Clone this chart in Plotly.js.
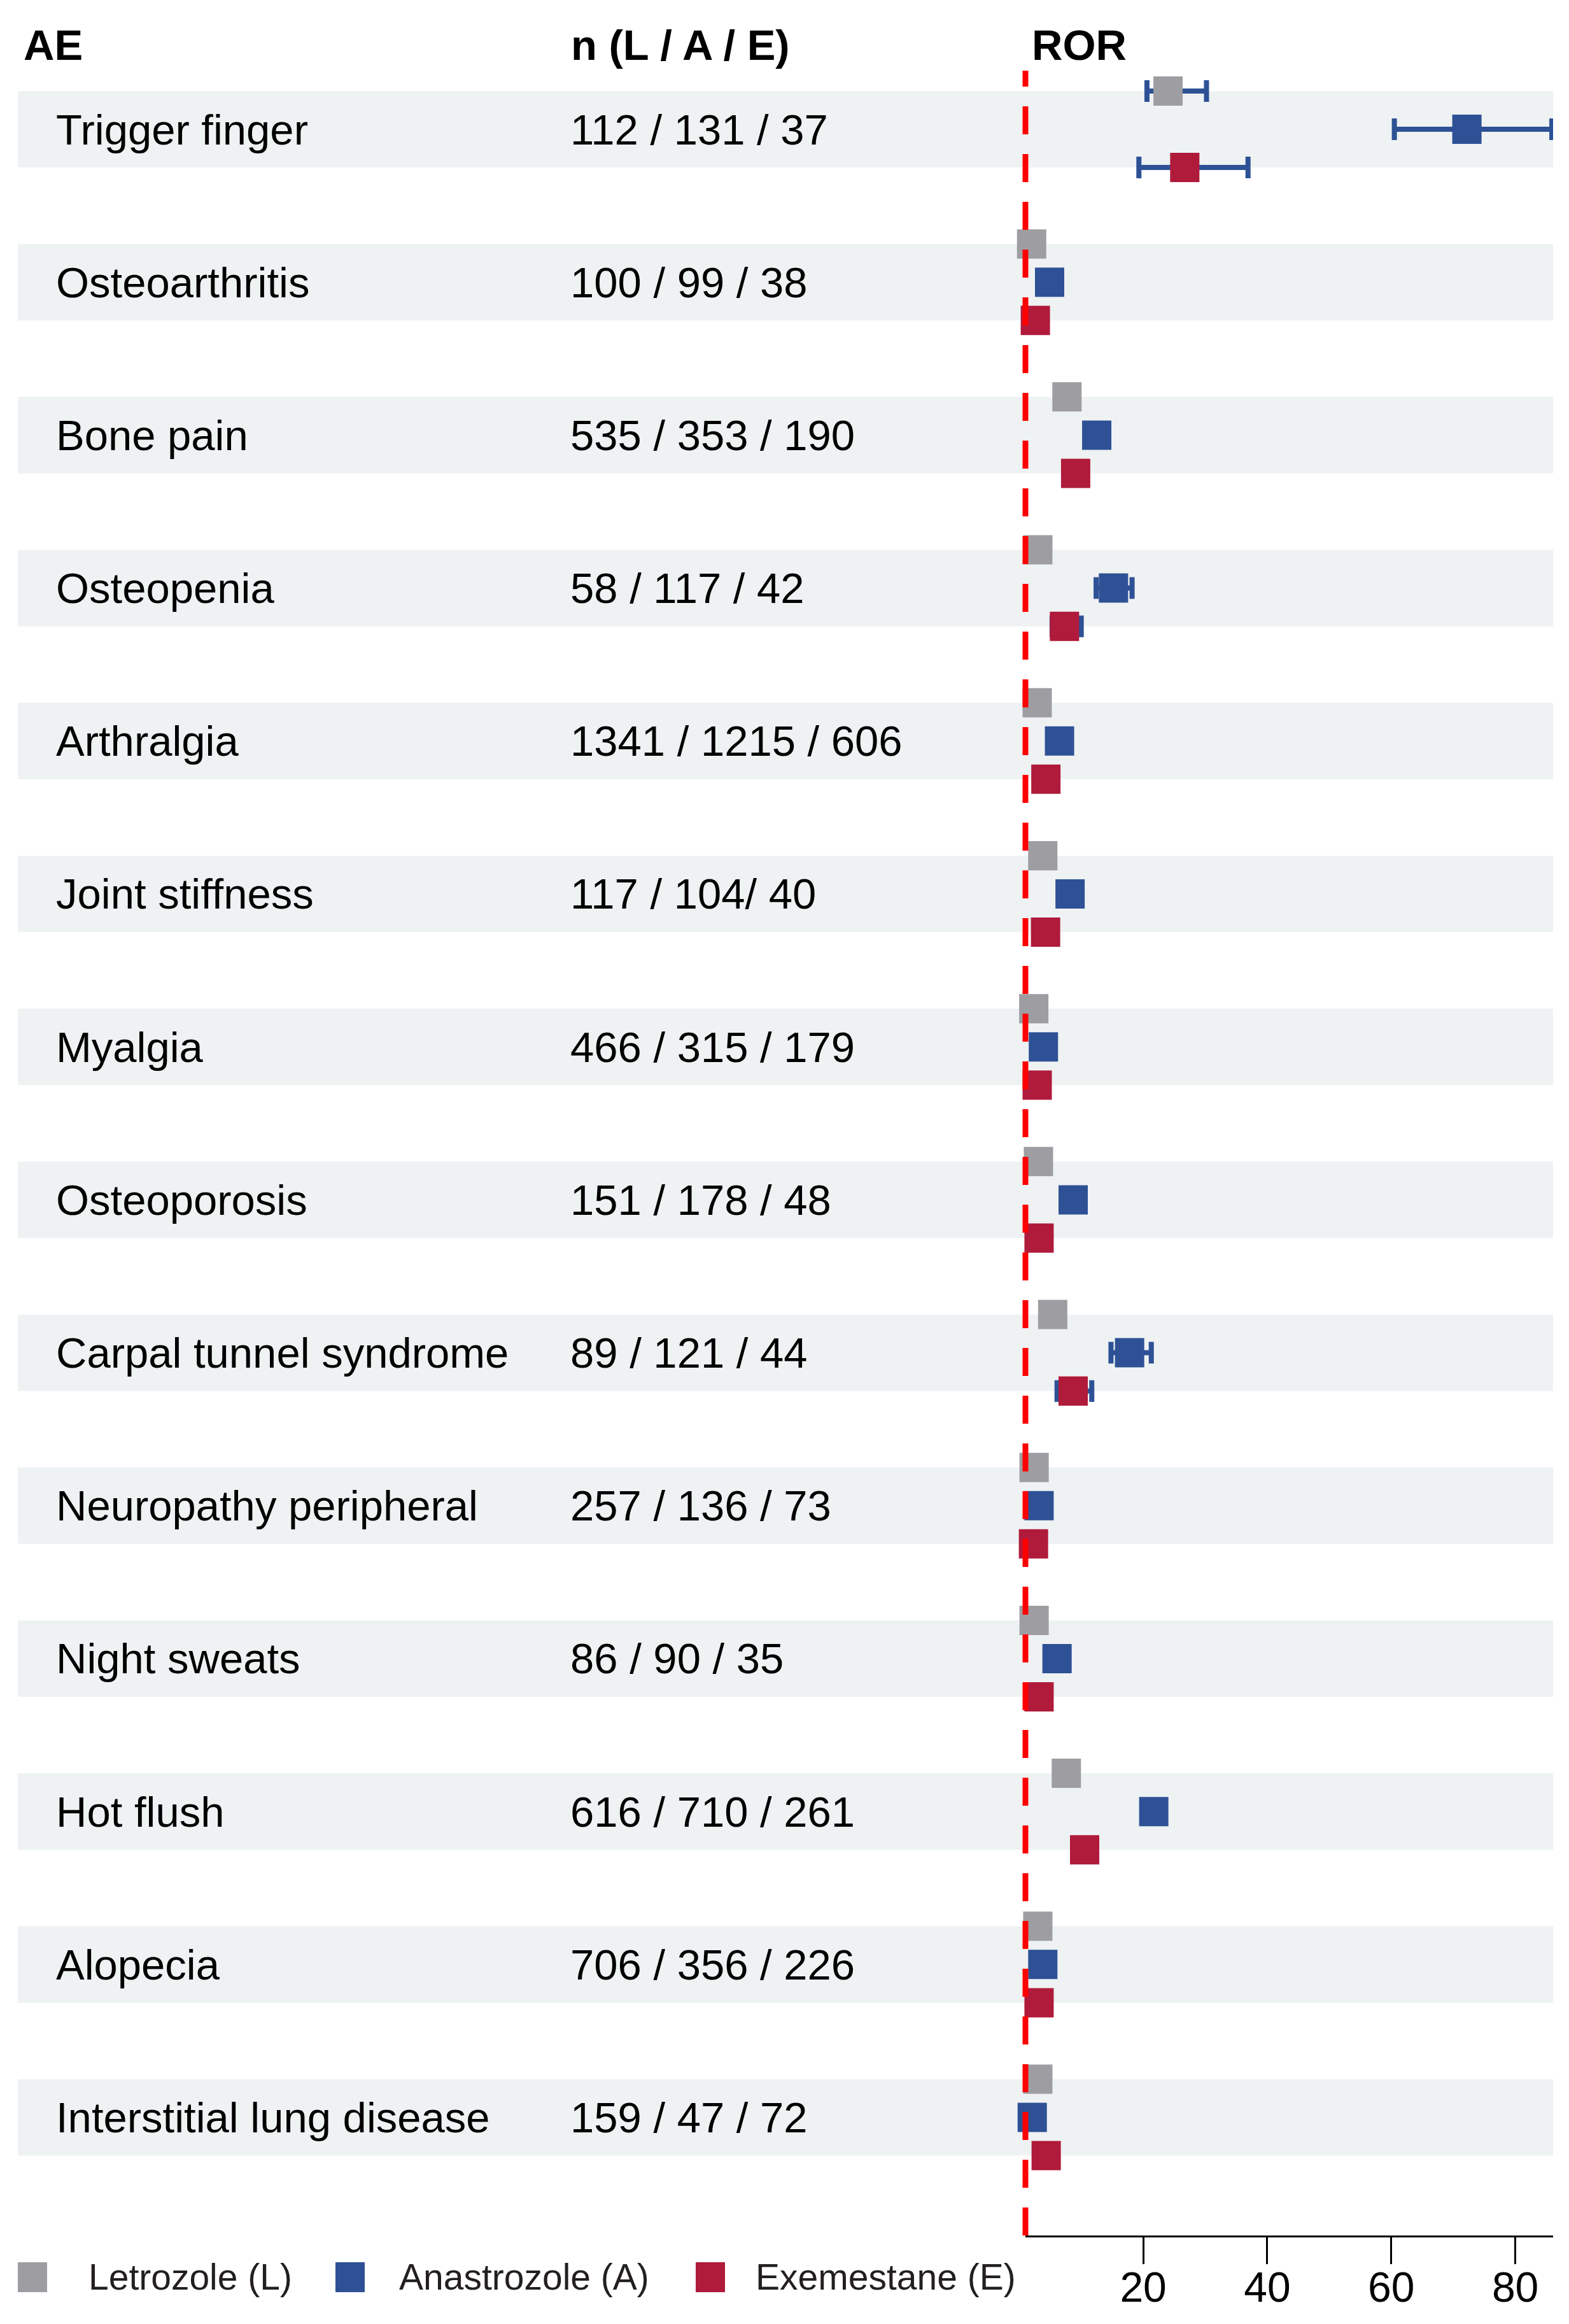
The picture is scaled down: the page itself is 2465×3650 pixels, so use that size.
<!DOCTYPE html>
<html>
<head>
<meta charset="utf-8">
<script src="https://cdn.plot.ly/plotly-3.0.1.min.js"></script>
<style>
html, body { margin: 0; padding: 0; background: #ffffff; }
#chart { width: 2465px; height: 3650px; }
</style>
</head>
<body>
<div id="chart"></div>
<script>
// ---------------- DATA ----------------
const categories = [
  "Trigger finger", "Osteoarthritis", "Bone pain", "Osteopenia", "Arthralgia",
  "Joint stiffness", "Myalgia", "Osteoporosis", "Carpal tunnel syndrome",
  "Neuropathy peripheral", "Night sweats", "Hot flush", "Alopecia",
  "Interstitial lung disease"
];
const nLabels = [
  "112 / 131 / 37", "100 / 99 / 38", "535 / 353 / 190", "58 / 117 / 42",
  "1341 / 1215 / 606", "117 / 104/ 40", "466 / 315 / 179", "151 / 178 / 48",
  "89 / 121 / 44", "257 / 136 / 73", "86 / 90 / 35", "616 / 710 / 261",
  "706 / 356 / 226", "159 / 47 / 72"
];
const seriesNames = ["Letrozole (L)", "Anastrozole (A)", "Exemestane (E)"];

// ROR point estimates
const rorL = [24.0, 2.0, 7.7, 3.0, 2.9, 3.8, 2.35, 3.1, 5.4, 2.4, 2.4, 7.6, 3.0, 3.0];
const rorA = [72.2, 4.9, 12.5, 15.2, 6.5, 8.2, 3.9, 8.7, 17.8, 3.2, 6.1, 21.7, 3.8, 2.1];
const rorE = [26.7, 2.6, 9.1, 7.3, 4.3, 4.25, 2.9, 3.2, 8.7, 2.3, 3.2, 10.55, 3.2, 4.35];

// 95% CI where visible outside the markers (null = hidden under marker)
const lowL  = [20.6, null, null, null, null, null, null, null, null, null, null, null, null, null];
const highL = [30.2, null, null, null, null, null, null, null, null, null, null, null, null, null];
const lowA  = [60.5, null, null, 12.4, null, null, null, null, 14.8, null, null, null, null, null];
const highA = [85.9, null, null, 18.2, null, null, null, null, 21.3, null, null, null, null, null];
const lowE  = [19.3, null, null, 5.3, null, null, null, null, 6.1, null, null, null, null, null];
const highE = [36.9, null, null, 10.0, null, null, null, null, 11.7, null, null, null, null, null];

const xTicks = [20, 40, 60, 80];
const nullROR = 1;

// ---------------- STYLE / LAYOUT ----------------
const W = 2465, H = 3650;
const M = { l: 1611, r: 25, t: 111, b: 139 };
const plotW = W - M.l - M.r, plotH = H - M.t - M.b;
const xRange = [1, 86.1];
const yRange = [13.772, -0.383];
const colors = ["#9e9ea2", "#2e5196", "#b01a3b"];
const ciColor = "#2e5196";
const bandColor = "#eef2f3";
const FONT = "Liberation Sans, Arial, Helvetica, sans-serif";
const offsets = [-0.25, 0, 0.25];

const series = [
  { v: rorL, lo: lowL, hi: highL },
  { v: rorA, lo: lowA, hi: highA },
  { v: rorE, lo: lowE, hi: highE }
];

function px2paperX(px) { return (px - M.l) / plotW; }
function px2paperY(py) { return (M.t + plotH - py) / plotH; }

const traces = [];
// error bars first (drawn below markers)
series.forEach((s, k) => {
  const xs = [], ys = [], plus = [], minus = [];
  s.v.forEach((v, i) => {
    if (s.lo[i] !== null && s.hi[i] !== null) {
      xs.push(v); ys.push(i + offsets[k]);
      plus.push(s.hi[i] - v); minus.push(v - s.lo[i]);
    }
  });
  traces.push({
    type: "scatter", mode: "markers", x: xs, y: ys,
    marker: { size: 2, opacity: 0 },
    error_x: { type: "data", symmetric: false, array: plus, arrayminus: minus,
               color: ciColor, thickness: 8, width: 17 },
    showlegend: false, hoverinfo: "skip", cliponaxis: false
  });
});
series.forEach((s, k) => {
  traces.push({
    type: "scatter", mode: "markers", name: seriesNames[k],
    x: s.v, y: s.v.map((v, i) => i + offsets[k]),
    marker: { symbol: "square", size: 46, color: colors[k], line: { width: 0 } },
    showlegend: false, cliponaxis: false
  });
});

const shapes = [];
categories.forEach((c, i) => {
  shapes.push({
    type: "rect", layer: "below", xref: "paper", yref: "y",
    x0: px2paperX(28), x1: px2paperX(2440), y0: i - 0.25, y1: i + 0.25,
    fillcolor: bandColor, line: { width: 0 }
  });
});
// reference line at ROR = 1
const nullPaper = (nullROR - xRange[0]) / (xRange[1] - xRange[0]);
shapes.push({
  type: "line", layer: "above", xref: "paper", yref: "paper",
  x0: nullPaper, x1: nullPaper, y0: 0, y1: 1,
  line: { color: "#ff0000", width: 9, dash: "44px,31px" }
});

const annotations = [];
const rowFont = { family: FONT, size: 67, color: "#000000" };
categories.forEach((c, i) => {
  annotations.push({ text: c, xref: "paper", x: 0, xshift: 86 - M.l, xanchor: "left",
    yref: "y", y: i, yanchor: "middle", showarrow: false, font: rowFont });
  annotations.push({ text: nLabels[i], xref: "paper", x: 0, xshift: 894 - M.l, xanchor: "left",
    yref: "y", y: i, yanchor: "middle", showarrow: false, font: rowFont });
});
const headFont = { family: FONT, size: 67, color: "#000000", weight: "bold" };
[["AE", 35], ["n (L / A / E)", 895], ["ROR", 1619]].forEach(([t, px]) => {
  annotations.push({ text: t, xref: "paper", x: 0, xshift: px - M.l, xanchor: "left",
    yref: "paper", y: 1, yshift: M.t - 70, yanchor: "middle", showarrow: false, font: headFont });
});

// legend (custom, large swatches)
const legendSwatch = [28, 527, 1093];
const legendText = [137, 625, 1185];
seriesNames.forEach((nm, k) => {
  shapes.push({
    type: "rect", xref: "paper", yref: "paper",
    x0: px2paperX(legendSwatch[k]), x1: px2paperX(legendSwatch[k] + 46),
    y0: px2paperY(3600), y1: px2paperY(3553),
    fillcolor: colors[k], line: { width: 0 }
  });
  annotations.push({ text: nm, xref: "paper", x: 0, xshift: legendText[k] - M.l, xanchor: "left",
    yref: "paper", y: 0, yshift: -(3576 - (M.t + plotH)), yanchor: "middle", showarrow: false,
    font: { family: FONT, size: 57, color: "#231f20" } });
});

const layout = {
  width: W, height: H,
  margin: M,
  paper_bgcolor: "#ffffff", plot_bgcolor: "rgba(0,0,0,0)",
  showlegend: false,
  font: { family: FONT, color: "#000000" },
  xaxis: {
    range: xRange, showgrid: false, zeroline: false,
    showline: true, linecolor: "#000000", linewidth: 3,
    ticks: "outside", ticklen: 42, tickwidth: 3, tickcolor: "#000000",
    tickvals: xTicks, ticktext: xTicks.map(String),
    ticklabelstandoff: -20,
    tickfont: { family: FONT, size: 66, color: "#000000" },
    fixedrange: true
  },
  yaxis: {
    range: yRange, showgrid: false, zeroline: false, showline: false,
    showticklabels: false, ticks: "", fixedrange: true
  },
  shapes: shapes,
  annotations: annotations
};

Plotly.newPlot("chart", traces, layout, { displayModeBar: false, staticPlot: true });
</script>
</body>
</html>
